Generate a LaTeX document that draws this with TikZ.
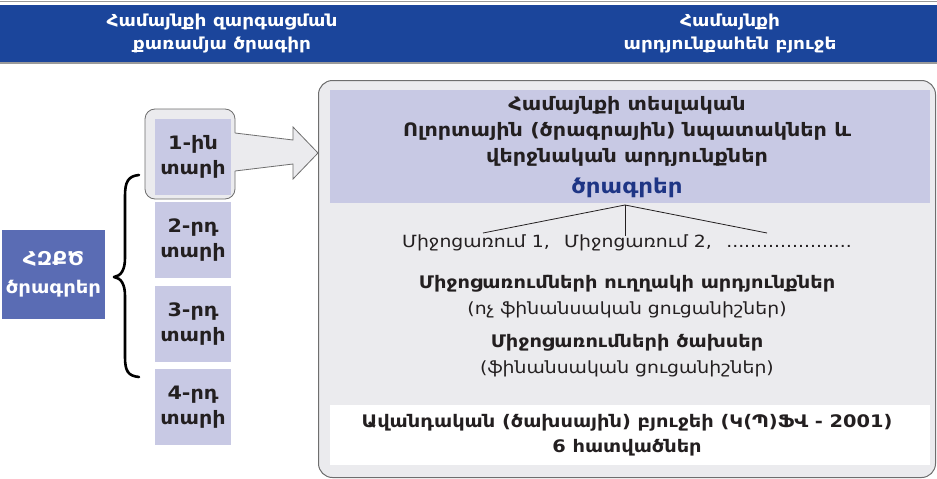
\documentclass[tikz,border=0pt]{standalone}
\usepackage{fontspec}
\setmainfont{DejaVu Sans}[FakeStretch=1.12]
\definecolor{hdrblue}{HTML}{1B459B}
\definecolor{hdrline}{HTML}{9A9A9A}
\definecolor{boxgray}{HTML}{EBEBEE}
\definecolor{boxedge}{HTML}{6E6E6E}
\definecolor{lav}{HTML}{C8C9E4}
\definecolor{lblue}{HTML}{5A6CB4}
\definecolor{progblue}{HTML}{1E3585}
\definecolor{txt}{HTML}{231F20}
\tikzset{
  hdrtext/.style={text=white, font=\bfseries\fontsize{16.5}{23}\selectfont, align=center},
  bigbox/.style={draw=boxedge, line width=1pt, fill=boxgray, rounded corners=14pt, anchor=north west},
  lavbox/.style={fill=lav, anchor=north west},
  yearbox/.style={fill=lav, minimum width=76pt, minimum height=76pt, align=center,
     font=\bfseries\fontsize{18.5}{25}\selectfont},
  ptxt/.style={font=\bfseries\fontsize{18.5}{26}\selectfont, align=center},
  btxt/.style={font=\bfseries\fontsize{17.3}{25}\selectfont, align=center},
  rtxt/.style={font=\fontsize{16.8}{25}\selectfont, align=center},
  treeline/.style={draw=txt, line width=0.8pt},
  bracestyle/.style={draw=black, line width=2.6pt, line cap=round, line join=round},
}
\begin{document}
\begin{tikzpicture}[x=1pt,y=-1pt, every node/.style={inner sep=0pt, text=txt}]
\useasboundingbox (0,0) rectangle (937,479);
\fill[white] (0,0) rectangle (937,479);
% header
\draw[hdrline, line width=1.5pt] (0,1.5) -- (937,1.5);
\fill[hdrblue] (0,5) rectangle (937,62);
\draw[hdrline, line width=1.5pt] (0,63) -- (937,63);
\node[hdrtext] (h1) at (222,33.5) {Համայնքի զարգացման\\քառամյա ծրագիր};
\node[hdrtext] (h2) at (730,33.5) {Համայնքի\\արդյունքահեն բյուջե};

% big box
\node[bigbox, minimum width=617pt, minimum height=397pt] (big) at (318,80) {};
\node[lavbox, minimum width=600pt, minimum height=113pt] (prog) at (330,90) {};
\node[ptxt] (p1) at (627,131) {Համայնքի տեսլական\\Ոլորտային (ծրագրային) նպատակներ և\\վերջնական արդյունքներ};
\node[font=\bfseries\fontsize{20.5}{22}\selectfont, text=progblue] (p2) at (627,188) {ծրագրեր};

% tree
\coordinate (ap) at (625,205);
\coordinate (tl) at (483,233);
\coordinate (tm) at (625,236);
\coordinate (tr) at (767,233);
\draw[treeline] (tl) -- (ap) -- (tr);
\draw[treeline] (ap) -- (tm);
\node[rtxt] (meas) at (627,243) {Միջոցառում 1,\enspace\ Միջոցառում 2,\enspace\ .....................};

\node[btxt] (r1) at (627,284) {Միջոցառումների ուղղակի արդյունքներ};
\node[rtxt] (r2) at (627,310) {(ոչ ֆինանսական ցուցանիշներ)};
\node[btxt] (r3) at (627,343) {Միջոցառումների ծախսեր};
\node[rtxt] (r4) at (627,369) {(ֆինանսական ցուցանիշներ)};

\node[fill=white, anchor=north west, minimum width=600pt, minimum height=60pt] (trad) at (330,405) {};
\node[btxt] (t1) at (627,435) {Ավանդական (ծախսային) բյուջեի (Կ(Պ)ՖՎ - 2001)\\6 հատվածներ};

% year 1 frame and arrow
\draw[draw=boxedge, line width=0.8pt, fill=boxgray, rounded corners=10pt] (145,109) rectangle (235,199);
\fill[boxgray] (234,133) -- (293,140) -- (293,127) -- (318,153) -- (293,179) -- (293,164) -- (234,171) -- cycle;
\draw[draw=boxedge, line width=0.8pt, line join=miter] (235,133) -- (293,140) -- (293,127) -- (318,153) -- (293,179) -- (293,164) -- (235,171);

% year boxes
\node[yearbox] (y1) at (193,157) {1-ին\\տարի};
\node[yearbox] (y2) at (193,240) {2-րդ\\տարի};
\node[yearbox] (y3) at (193,324) {3-րդ\\տարի};
\node[yearbox] (y4) at (193,407) {4-րդ\\տարի};

% brace
\draw[bracestyle] (139,175) .. controls (128,176) and (125,182) .. (125,196)
  -- (125,258) .. controls (125,270) and (121,276) .. (114,277)
  .. controls (121,278) and (125,284) .. (125,296)
  -- (125,357) .. controls (125,371) and (128,376) .. (139,377);

% label
\node[fill=lblue, minimum width=103pt, minimum height=89pt, text=white, align=center,
      font=\bfseries\fontsize{17.5}{28}\selectfont] (lbl) at (53.5,274.5) {{\fontsize{19}{28}\selectfont ՀԶՔԾ}\\ծրագրեր};
\end{tikzpicture}
\end{document}
